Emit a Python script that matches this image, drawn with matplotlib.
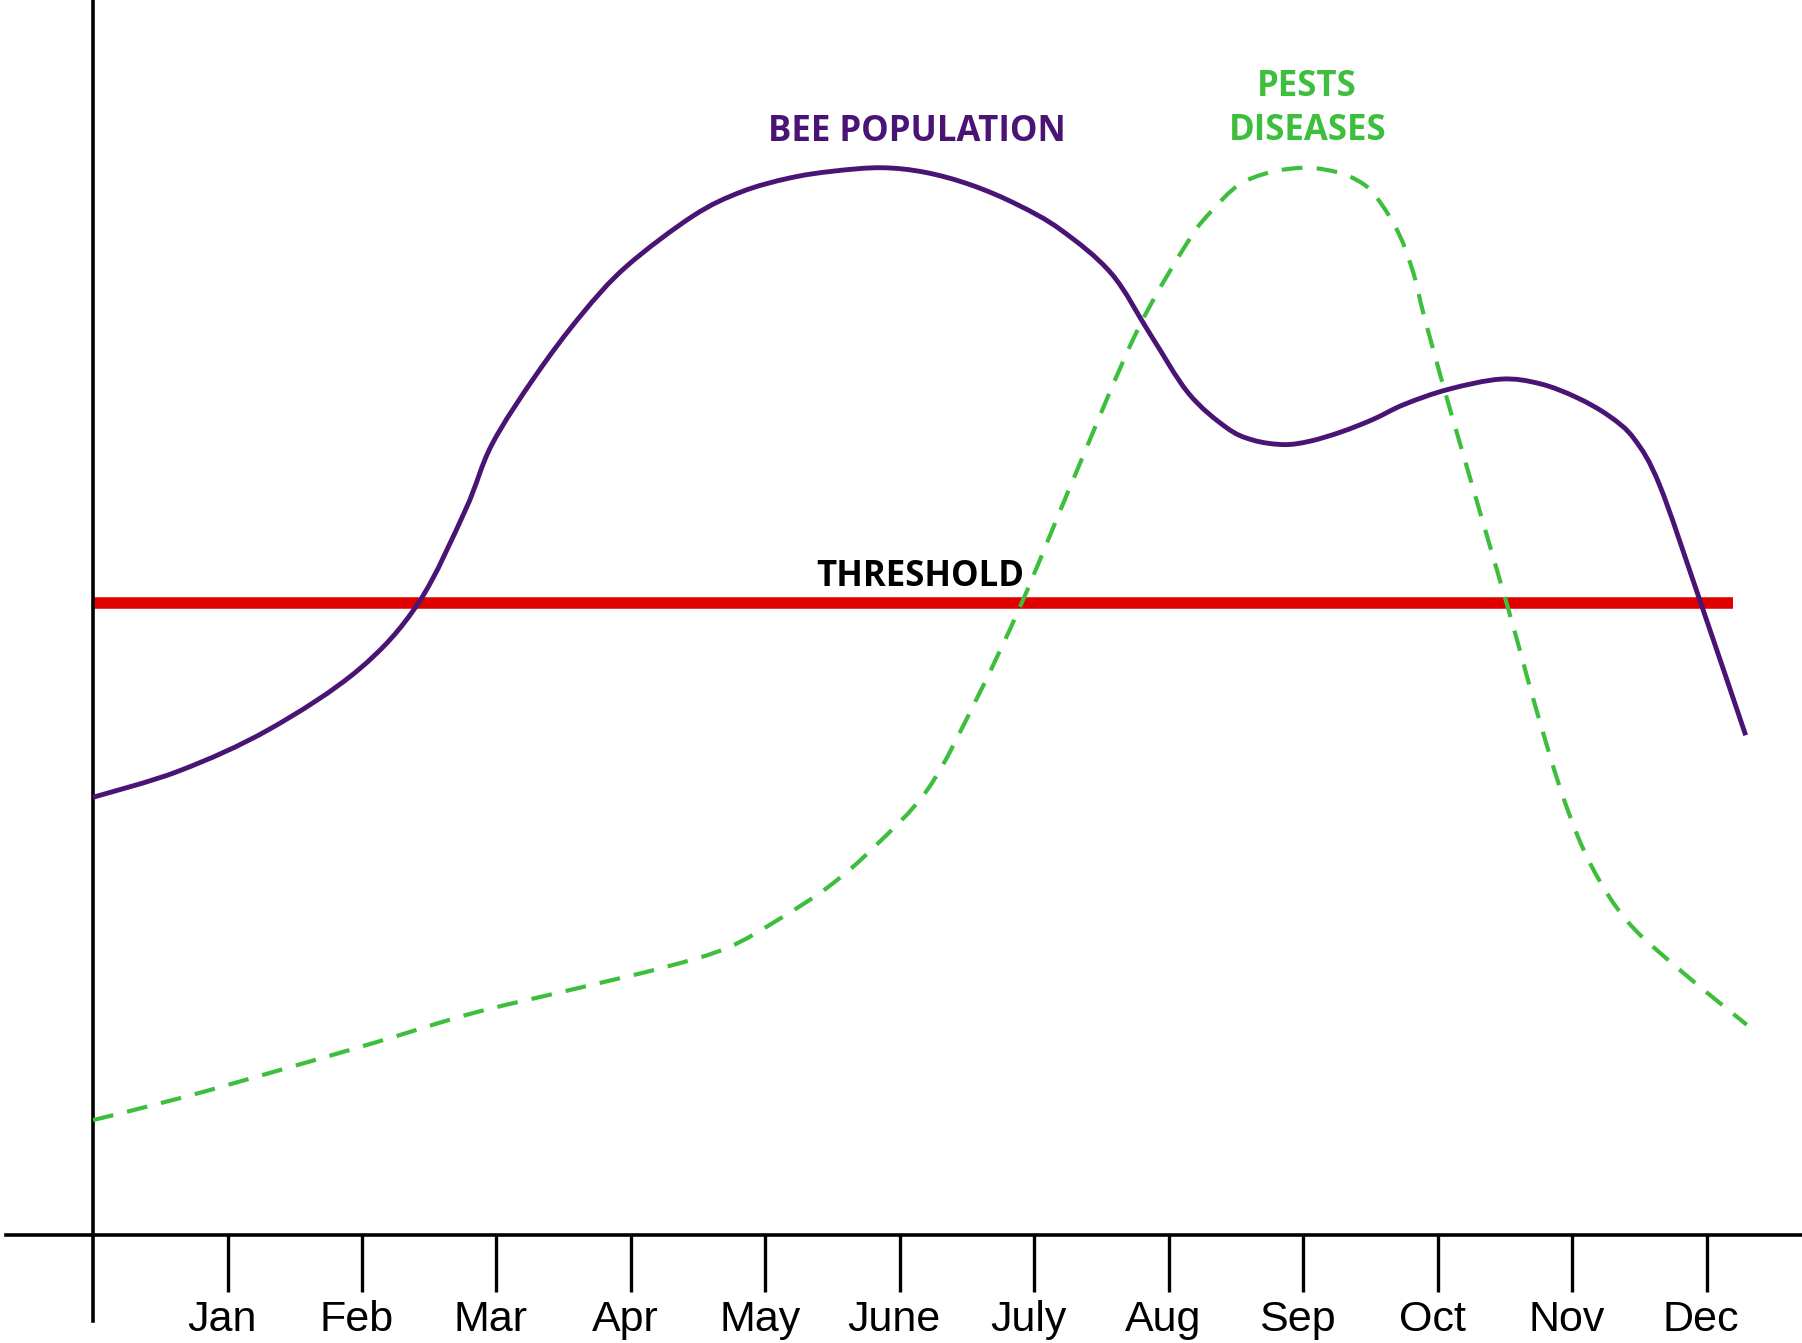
import matplotlib
matplotlib.use("Agg")
import matplotlib.pyplot as plt
from matplotlib.path import Path
from matplotlib.patches import PathPatch
from matplotlib.transforms import ScaledTranslation

months = ["Jan", "Feb", "Mar", "Apr", "May", "June", "July", "Aug", "Sep", "Oct", "Nov", "Dec"]
month_pos = list(range(1, 13))

bee_x = [0.0, 0.641, 1.308, 1.974, 2.419, 2.769, 2.966, 3.291, 3.632, 3.966, 4.462, 4.821,
         5.179, 5.504, 5.863, 6.188, 6.530, 6.872, 7.197, 7.573, 7.863, 8.145, 8.427, 8.624,
         8.855, 9.051, 9.282, 9.521, 9.752, 10.077, 10.470, 10.761, 11.034, 11.274, 11.462,
         11.650, 11.940, 12.291]
bee_y = [38.1, 40.4, 44.0, 49.2, 55.0, 63.1, 68.8, 74.8, 80.1, 84.3, 88.7, 90.8,
         92.0, 92.6, 92.9, 92.5, 91.4, 89.7, 87.5, 83.7, 78.4, 73.3, 70.3, 69.2,
         68.8, 69.1, 69.9, 71.0, 72.3, 73.6, 74.5, 74.1, 72.9, 71.3, 69.3,
         65.3, 55.6, 43.5]

pest_x = [0.0, 0.675, 1.402, 2.111, 2.821, 3.538, 4.248, 4.718, 5.103, 5.479, 5.812, 6.214,
          6.573, 6.906, 7.291, 7.761, 8.145, 8.325, 8.521, 8.752, 9.0, 9.179, 9.333, 9.479,
          9.590, 9.684, 9.761, 9.838, 9.897, 10.094, 10.513, 10.735, 10.940, 11.145, 11.419,
          11.829, 12.299]
pest_y = [10.0, 12.0, 14.4, 16.8, 19.3, 21.3, 23.3, 25.0, 27.5, 30.4, 33.8, 38.9,
          46.7, 55.0, 65.8, 78.6, 86.5, 89.2, 91.4, 92.5, 92.9, 92.7, 92.2, 91.2,
          89.6, 87.8, 85.8, 83.0, 80.1, 71.8, 55.0, 45.7, 37.9, 32.1, 27.2,
          22.8, 18.3]

threshold = 55.0
threshold_span = [0.0, 12.2]

PURPLE = "#4a1475"
GREEN = "#3dbf3d"
RED = "#e00000"


def smooth_path(xs, ys):
    """Smooth (Catmull-Rom as cubic Bezier) path passing through the given points."""
    pts = list(zip(xs, ys))
    n = len(pts)
    verts = [pts[0]]
    codes = [Path.MOVETO]
    for i in range(n - 1):
        p0 = pts[i - 1] if i > 0 else pts[i]
        p1 = pts[i]
        p2 = pts[i + 1]
        p3 = pts[i + 2] if i + 2 < n else pts[i + 1]
        c1 = (p1[0] + (p2[0] - p0[0]) / 6.0, p1[1] + (p2[1] - p0[1]) / 6.0)
        c2 = (p2[0] - (p3[0] - p1[0]) / 6.0, p2[1] - (p3[1] - p1[1]) / 6.0)
        verts += [c1, c2, p2]
        codes += [Path.CURVE4] * 3
    return Path(verts, codes)


fig = plt.figure(figsize=(18.02, 13.43), dpi=100)
ax = fig.add_axes([0, 0, 1, 1])
ax.set_xlim(-0.692, 12.71)
ax.set_ylim(-9.4, 107.5)

ax.plot(threshold_span, [threshold, threshold], color=RED, lw=8.3, solid_capstyle="butt", zorder=2)
ax.add_patch(PathPatch(smooth_path(bee_x, bee_y), fill=False, edgecolor=PURPLE, lw=3.5,
                       joinstyle="round", capstyle="butt", zorder=3))
ax.add_patch(PathPatch(smooth_path(pest_x, pest_y), fill=False, edgecolor=GREEN, lw=3.0,
                       linestyle=(0, (5.0, 3.4)), capstyle="butt", zorder=3))

# axes
for s in ["top", "right"]:
    ax.spines[s].set_visible(False)
ax.spines["left"].set_position(("data", 0))
ax.spines["bottom"].set_position(("data", 0))
ax.spines["left"].set_bounds(-7.5, 107.5)
ax.spines["bottom"].set_bounds(-0.65, 12.71)
ax.spines["left"].set_linewidth(2.6)
ax.spines["bottom"].set_linewidth(2.6)
ax.set_yticks([])
ax.set_xticks(month_pos)
ax.set_xticklabels(months, family=["Liberation Sans", "DejaVu Sans"], fontsize=31)
ax.tick_params(axis="x", direction="out", length=41, width=2.4, pad=6)
shift = ScaledTranslation(-4 / 72, 0, fig.dpi_scale_trans)
for lab in ax.get_xticklabels():
    lab.set_transform(lab.get_transform() + shift)

bold = dict(family=["Open Sans", "DejaVu Sans"], fontweight="bold", ha="center", va="center")
ax.text(6.13, 96.0, "BEE POPULATION", color=PURPLE, fontsize=25, **bold)
ax.text(9.03, 99.9, "PESTS", color=GREEN, fontsize=25, **bold)
ax.text(9.03, 96.1, "DISEASES", color=GREEN, fontsize=25, **bold)
ax.text(6.15, 57.3, "THRESHOLD", color="black", fontsize=25, **bold)

fig.savefig("out.png", dpi=100)
